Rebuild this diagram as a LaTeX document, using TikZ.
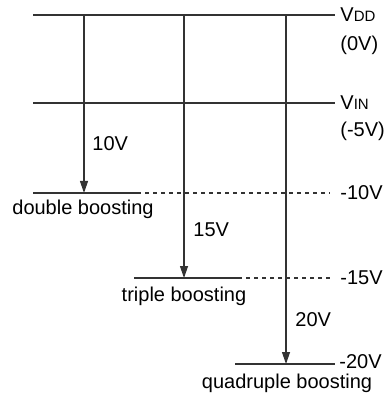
\documentclass[tikz,border=0pt]{standalone}
\usepackage{fontspec}
\setmainfont{Liberation Sans}
\usetikzlibrary{arrows.meta}
\usetikzlibrary{positioning}

\begin{document}
\begin{tikzpicture}[line cap=butt,x=0.5pt,y=-0.5pt,>={Triangle[length=6pt,width=4pt]},
  lvl/.style={line width=0.6pt,color=black!80},
  dsh/.style={lvl,dash pattern=on 2pt off 2pt},
  lbl/.style={font=\fontsize{10}{12}\selectfont,inner sep=0pt}]
\useasboundingbox (0,0) rectangle (387,394);
% supply rails
\coordinate (vddL) at (33,15);
\coordinate (vddR) at (335,15);
\coordinate (vinL) at (33,103);
\coordinate (vinR) at (335,103);
\draw[lvl] (vddL) -- (vddR);
\draw[lvl] (vinL) -- (vinR);
\node[lbl,anchor=west] (vdd) at (340,15) {V{\fontsize{7.5}{9}\selectfont DD}};
\node[lbl,anchor=west] (vddv) at (340,45) {(0V)};
\node[lbl,anchor=west] (vin) at (340,103) {V{\fontsize{7.5}{9}\selectfont IN}};
\node[lbl,anchor=west] (vinv) at (340,131) {(-5V)};
% boosted levels
\coordinate (tenL) at (33,193);
\coordinate (tenM) at (137,193);
\coordinate (tenR) at (330,193);
\coordinate (fifL) at (134,278);
\coordinate (fifM) at (238,278);
\coordinate (fifR) at (330,278);
\coordinate (twtL) at (235,364);
\coordinate (twtR) at (335,364);
\draw[lvl] (tenL) -- (tenM);
\draw[dsh] (tenM) -- (tenR);
\draw[lvl] (fifL) -- (fifM);
\draw[dsh] (fifM) -- (fifR);
\draw[lvl] (twtL) -- (twtR);
\node[lbl,anchor=west] (ten) at (340,193) {-10V};
\node[lbl,anchor=west] (fif) at (340,278) {-15V};
\node[lbl,anchor=west] (twt) at (339,362) {-20V};
% boosting arrows
\coordinate (a1) at (84,15);
\coordinate (b1) at (84,193);
\coordinate (a2) at (184,15);
\coordinate (b2) at (184,278);
\coordinate (a3) at (286,15);
\coordinate (b3) at (286,364);
\draw[lvl,->] (a1) -- (b1);
\draw[lvl,->] (a2) -- (b2);
\draw[lvl,->] (a3) -- (b3);
\node[lbl,anchor=west] (d10) at (92,144) {10V};
\node[lbl,anchor=west] (d15) at (193,230) {15V};
\node[lbl,anchor=west] (d20) at (295,320) {20V};
\node[lbl] (dbl) at (83,209) {double boosting};
\node[lbl] (tpl) at (184,296) {triple boosting};
\node[lbl] (qdr) at (287,383) {quadruple boosting};
\end{tikzpicture}
\end{document}
